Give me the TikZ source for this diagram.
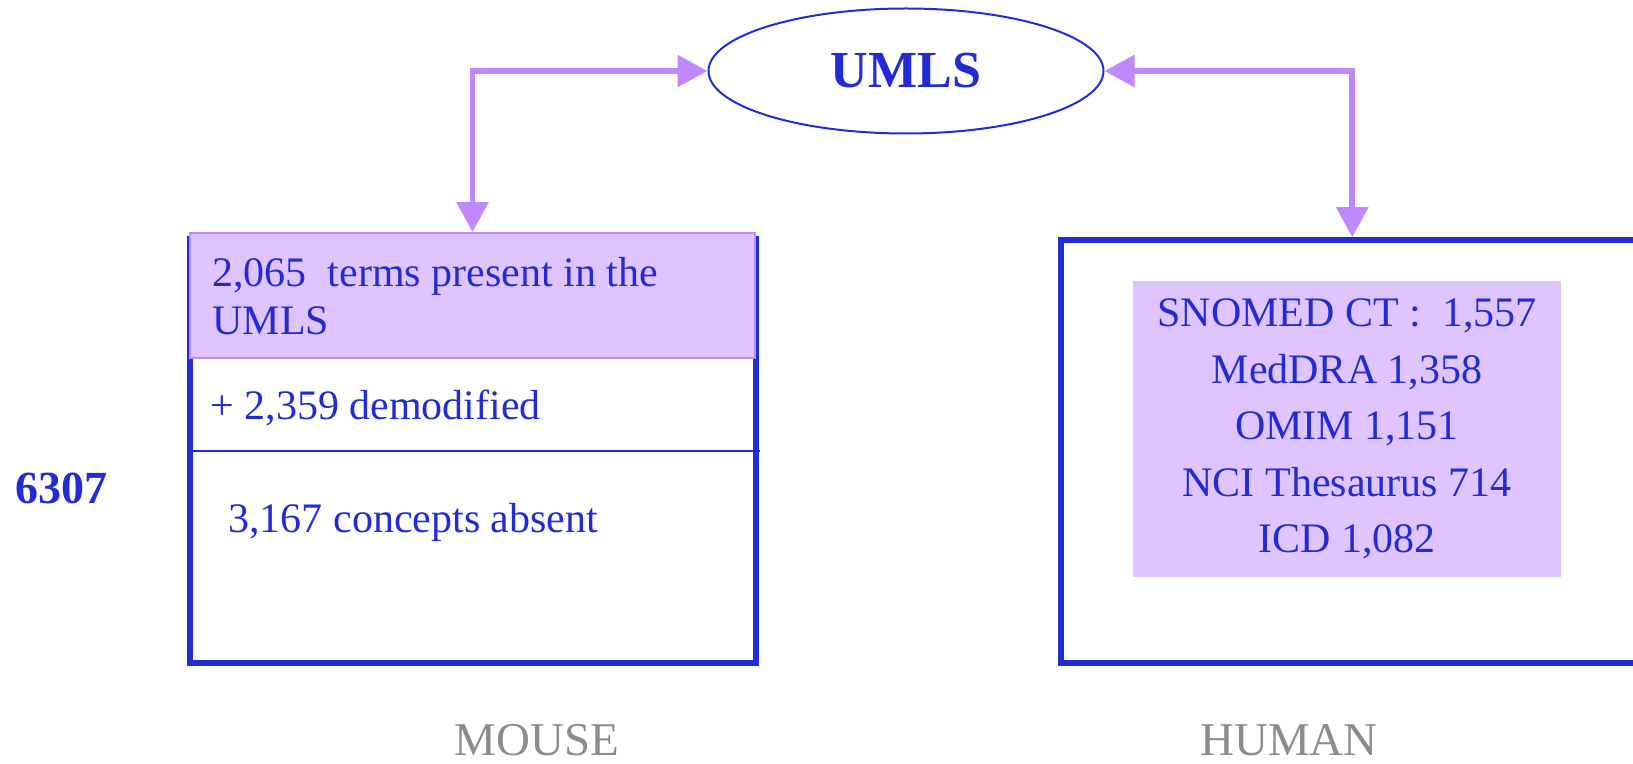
\documentclass[tikz,border=0pt]{standalone}
\usepackage{fontspec}
\setmainfont{Liberation Serif}
\usetikzlibrary{arrows.meta,shapes.geometric,calc}
\definecolor{ublue}{RGB}{34,44,212}
\definecolor{apurple}{RGB}{192,136,255}
\definecolor{hfill}{RGB}{223,196,255}
\definecolor{lgray}{RGB}{140,140,140}
\begin{document}
\begin{tikzpicture}[x=0.5pt,y=-0.5pt,
  txt/.style={text=ublue, font=\fontsize{21}{24}\selectfont, inner sep=0pt, anchor=base west},
  frame/.style={draw=ublue, line width=2.75pt, fill=white, inner sep=0pt},
  arr/.style={draw=apurple, line width=2.9pt, {Triangle[length=15pt,width=15.5pt]}-{Triangle[length=15pt,width=15.5pt]}},
  shade/.style={fill=hfill, inner sep=0pt},
  caption/.style={text=lgray, font=\fontsize{23.5}{26}\selectfont, inner sep=0pt, anchor=base}]
\useasboundingbox (0,0) rectangle (1633,764);
\clip (0,0) rectangle (1633,764);
% UMLS ellipse
\node[ellipse, draw=ublue, line width=1pt, minimum width=197.5pt, minimum height=62.5pt,
      inner sep=0pt, text=ublue, font=\fontsize{26}{30}\selectfont\bfseries] (umls) at (906,71) {UMLS};
% mouse box
\node[frame, minimum width=283pt, minimum height=212pt] (mouse) at (473,451) {};
\node[shade, draw=apurple, line width=0.9pt, minimum width=282.5pt, minimum height=62.5pt] (hdr) at (472.5,295.5) {};
\draw[ublue, line width=1pt] (187,451) -- (760,451);
\node[txt] (t1) at (212,287) {2,065~~terms present in the};
\node[txt] (t2) at (212,335) {UMLS};
\node[txt] (t3) at (210,420) {+ 2,359 demodified};
\node[txt] (t4) at (228,532) {3,167 concepts absent};
\node[anchor=base west, text=ublue, font=\fontsize{23}{26}\selectfont\bfseries, inner sep=0pt] (total) at (15,503) {6307};
% human box
\node[frame, minimum width=320pt, minimum height=211.5pt] (human) at (1381,451.5) {};
\node[shade, minimum width=214pt, minimum height=148pt, text=ublue, align=center,
      font=\fontsize{21}{28.25}\selectfont] (src) at (1347,429)
      {SNOMED CT :~~1,557\\MedDRA 1,358\\OMIM 1,151\\NCI Thesaurus 714\\ICD 1,082};
% arrows
\draw[arr] (hdr.north) |- (umls.west);
\coordinate (ra) at ($(human.north west)+(294,0)$);
\draw[arr] (ra) |- (umls.east);
% captions
\node[caption] (cm) at (537,755) {MOUSE};
\node[caption] (ch) at (1289,755) {HUMAN};
\end{tikzpicture}
\end{document}
